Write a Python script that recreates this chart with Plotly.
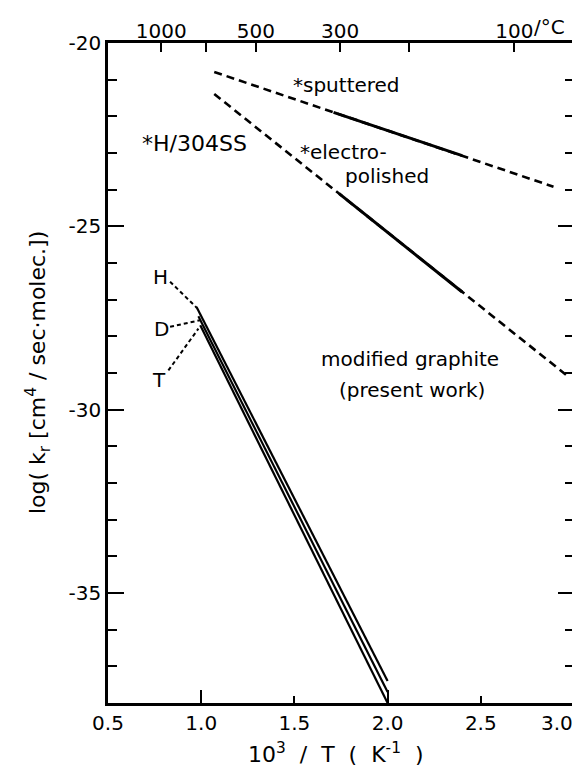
import plotly.graph_objects as go

# ---------------- data ----------------
# H/304SS sputtered (dashed = extrapolation, solid = measured range)
sput_dash_x = [1.07, 2.89]
sput_dash_y = [-20.79, -23.92]
sput_solid_x = [1.71, 2.40]
sput_solid_y = [-21.89, -23.07]

# H/304SS electropolished
elec_dash_x = [1.07, 2.97]
elec_dash_y = [-21.39, -29.10]
elec_solid_x = [1.74, 2.40]
elec_solid_y = [-24.11, -26.79]

# modified graphite (present work)
H_x = [0.975, 2.0]
H_y = [-27.2, -37.4]
D_x = [0.985, 2.0]
D_y = [-27.45, -37.7]
T_x = [0.995, 2.0]
T_y = [-27.7, -38.0]

# leader lines from labels to graphite lines
H_lead_x = [0.833, 0.976]
H_lead_y = [-26.51, -27.22]
D_lead_x = [0.833, 0.994]
D_lead_y = [-27.74, -27.56]
T_lead_x = [0.824, 0.985]
T_lead_y = [-28.93, -27.79]

# axes
x_ticks = [0.5, 1.0, 1.5, 2.0, 2.5, 3.0]
x_ticktext = ["0.5", "1.0", "1.5", "2.0", "2.5", ""]   # "3.0" placed separately (edge)
x_last_label = "3.0"
x_long_ticks = [1.0, 2.0]
y_ticks = [-20, -25, -30, -35]
y_ticktext = ["-20", "-25", "-30", "-35"]
y_minor = [-21, -22, -23, -24, -26, -27, -28, -29, -31, -32, -33, -34, -36, -37]
top_celsius = [1000, 700, 500, 300, 200, 100]
top_celsius_text = ["1000", "", "500", "300", "", "100"]

FONT = "DejaVu Sans"
BLACK = "black"
DASH = "8px,5px"

fig = go.Figure()

def line(x, y, width=3, dash="solid", xaxis="x"):
    fig.add_trace(go.Scatter(x=x, y=y, mode="lines", xaxis=xaxis,
                             line=dict(color=BLACK, width=width, dash=dash),
                             showlegend=False, hoverinfo="skip"))

line(sput_dash_x, sput_dash_y, 2.6, DASH)
line(sput_solid_x, sput_solid_y, 3)
line(elec_dash_x, elec_dash_y, 2.6, DASH)
line(elec_solid_x, elec_solid_y, 3)
line(H_x, H_y, 2.2)
line(D_x, D_y, 2.2)
line(T_x, T_y, 2.2)
line(H_lead_x, H_lead_y, 2, "4px,3px")
line(D_lead_x, D_lead_y, 2, "4px,3px")
line(T_lead_x, T_lead_y, 2, "4px,3px")

# dummy traces so overlay axes are drawn
fig.add_trace(go.Scatter(x=[None], y=[None], xaxis="x2", showlegend=False))
fig.add_trace(go.Scatter(x=[None], y=[None], xaxis="x3", showlegend=False))

top_vals = [1000.0 / (c + 273.15) for c in top_celsius]

tickfont = dict(family=FONT, size=20, color=BLACK)

fig.update_layout(
    width=580, height=769,
    margin=dict(l=100, r=14, t=35, b=74),
    paper_bgcolor="white", plot_bgcolor="white",
    font=dict(family=FONT, size=20, color=BLACK),
    xaxis=dict(range=[0.5, 3.0], tickmode="array", tickvals=x_ticks, ticktext=x_ticktext,
               ticks="inside", ticklen=7, tickwidth=2, tickcolor=BLACK,
               showline=True, linewidth=2.5, linecolor=BLACK, mirror=True,
               showgrid=False, zeroline=False, tickfont=tickfont),
    xaxis2=dict(range=[0.5, 3.0], overlaying="x", side="top", anchor="y",
                tickmode="array", tickvals=top_vals, ticktext=top_celsius_text,
                ticks="inside", ticklen=9, tickwidth=2, tickcolor=BLACK,
                showline=False, showgrid=False, zeroline=False, tickfont=tickfont),
    xaxis3=dict(range=[0.5, 3.0], overlaying="x", side="bottom", anchor="y",
                tickmode="array", tickvals=x_long_ticks, showticklabels=False,
                ticks="inside", ticklen=13, tickwidth=2, tickcolor=BLACK,
                showline=False, showgrid=False, zeroline=False),
    yaxis=dict(range=[-38, -20], tickmode="array", tickvals=y_ticks, ticktext=y_ticktext,
               ticks="inside", ticklen=16, tickwidth=2, tickcolor=BLACK,
               minor=dict(tickmode="array", tickvals=y_minor, ticks="inside",
                          ticklen=9, tickwidth=2, tickcolor=BLACK, showgrid=False),
               showline=True, linewidth=2.5, linecolor=BLACK, mirror="ticks",
               showgrid=False, zeroline=False, tickfont=tickfont),
)

def text(t, x, y, anchor="center", size=20):
    fig.add_annotation(text=t, x=x, y=y, xref="x", yref="y", showarrow=False,
                       xanchor=anchor, yanchor="middle",
                       font=dict(family=FONT, size=size, color=BLACK))

text("*H/304SS", 0.965, -22.73, size=22)
text("*sputtered", 1.483, -21.14, "left")
text("*electro-", 1.52, -22.98, "left")
text("polished", 1.762, -23.62, "left")
text("modified graphite", 2.12, -28.61)
text("(present work)", 2.13, -29.45)
text("H", 0.78, -26.37)
text("D", 0.788, -27.79)
text("T", 0.774, -29.2)

# last bottom tick label, kept inside the page edge
fig.add_annotation(text=x_last_label, x=x_ticks[-1], y=0, xref="x", yref="paper",
                   xanchor="right", yanchor="top", xshift=1, yshift=-6,
                   showarrow=False, font=dict(family=FONT, size=20, color=BLACK))

# "/°C" after the 100 °C top tick label
fig.add_annotation(text="/°C", x=top_vals[-1], y=1, xref="x", yref="paper",
                   xanchor="left", yanchor="middle", xshift=18, yshift=16.5,
                   showarrow=False, font=dict(family=FONT, size=20, color=BLACK))

# axis titles
fig.add_annotation(text="log( k<sub>r</sub> [cm<sup>4</sup> / sec·molec.])",
                   x=-0.15, y=0.5, xref="paper", yref="paper", textangle=-90,
                   showarrow=False, xanchor="center", yanchor="middle",
                   font=dict(family=FONT, size=22, color=BLACK))
fig.add_annotation(text="10<sup>3</sup>  /  T  (  K<sup>-1</sup>  )",
                   x=0.489, y=-0.0758, xref="paper", yref="paper",
                   showarrow=False, xanchor="center", yanchor="middle",
                   font=dict(family=FONT, size=22, color=BLACK))

fig.write_html("out.html")
